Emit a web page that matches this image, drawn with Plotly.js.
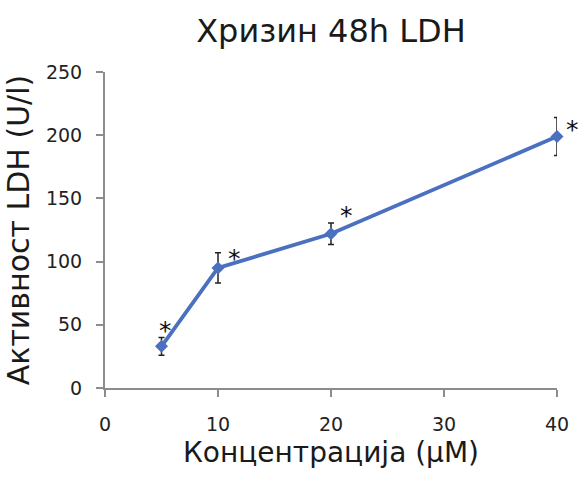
<!DOCTYPE html>
<html>
<head>
<meta charset="utf-8">
<script src="https://cdn.plot.ly/plotly-3.0.1.min.js"></script>
<style>html,body{margin:0;padding:0;background:#fff;}#chart{width:578px;height:481px;}</style>
</head>
<body>
<div id="chart"></div>
<script>
const concentrations = [5, 10, 20, 40];
const ldhActivity = [33, 95, 122, 199];
const errorValues = [7, 12, 8.5, 15];
const significance = ["*", "*", "*", "*"];
const starShiftX = [4, 16, 15, 15];
const starShiftY = [23, 16, 25, 14];
const xTicks = [0, 10, 20, 30, 40];
const yTicks = [0, 50, 100, 150, 200, 250];

const font = "DejaVu Sans, Verdana, sans-serif";
const axisColor = "#8c8c8c";

const trace = {
  x: concentrations,
  y: ldhActivity,
  type: "scatter",
  mode: "lines+markers",
  line: {color: "#4a70bf", width: 3.8},
  marker: {symbol: "diamond", size: 10, color: "#4a70bf"},
  error_y: {type: "data", array: errorValues, visible: true, color: "#222", thickness: 1.5, width: 3},
  cliponaxis: false,
  showlegend: false,
  hoverinfo: "none"
};

const annotations = concentrations.map((c, i) => ({
  x: c, y: ldhActivity[i], xref: "x", yref: "y",
  text: significance[i], showarrow: false,
  xshift: starShiftX[i], yshift: starShiftY[i] - 7,
  font: {family: font, size: 25, color: "#111"}
}));

const layout = {
  width: 578, height: 481,
  margin: {l: 105, r: 21, t: 72, b: 93},
  paper_bgcolor: "#fff", plot_bgcolor: "#fff",
  title: {text: "Хризин 48h LDH", font: {family: font, size: 32, color: "#1a1a1a"}, x: 0.5, xref: "paper", y: 1 - 31 / 481, yref: "container", yanchor: "middle"},
  xaxis: {
    range: [0, 40], tickvals: xTicks, ticktext: xTicks.map(String),
    showgrid: false, zeroline: false, showline: true, linecolor: axisColor, linewidth: 2,
    ticks: "outside", tickcolor: axisColor, ticklen: 7, tickwidth: 2,
    ticklabelstandoff: 11,
    tickfont: {family: font, size: 19, color: "#222"},
    title: {text: "Концентрација (µM)", font: {family: font, size: 28, color: "#1a1a1a"}, standoff: 9},
    fixedrange: true
  },
  yaxis: {
    range: [0, 250], tickvals: yTicks, ticktext: yTicks.map(String),
    showgrid: false, zeroline: false, showline: true, linecolor: axisColor, linewidth: 2,
    ticks: "outside", tickcolor: axisColor, ticklen: 7, tickwidth: 2,
    ticklabelstandoff: 10,
    tickfont: {family: font, size: 19, color: "#222"},
    title: {text: "Активност LDH (U/l)", font: {family: font, size: 30, color: "#1a1a1a"}, standoff: 7},
    fixedrange: true
  },
  annotations: annotations
};

Plotly.newPlot("chart", [trace], layout, {displayModeBar: false, staticPlot: true});
</script>
</body>
</html>
